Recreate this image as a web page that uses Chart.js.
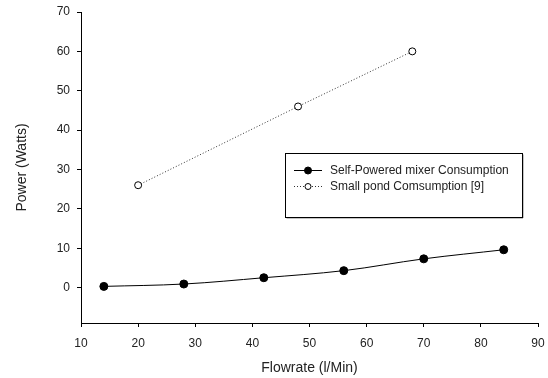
<!DOCTYPE html>
<html><head><meta charset="utf-8">
<script src="https://cdn.jsdelivr.net/npm/chart.js@4"></script>
<style>html,body{margin:0;padding:0;background:#fff}#wrap{width:548px;height:378px}</style>
</head><body><div id="wrap"><canvas id="c" width="548" height="378"></canvas></div>
<script>
const selfX = [14, 28, 42, 56, 70, 84];
const selfY = [0.3, 0.9, 2.5, 4.3, 7.3, 9.6];
const pondX = [20, 48, 68];
const pondY = [26, 46, 60];
const xTicks = [10, 20, 30, 40, 50, 60, 70, 80, 90];
const yTicks = [0, 10, 20, 30, 40, 50, 60, 70];
const seriesNames = ['Self-Powered mixer Consumption', 'Small pond Comsumption [9]'];
const xTitle = 'Flowrate (l/Min)';
const yTitle = 'Power (Watts)';

const FONT = '"Liberation Sans", Arial, sans-serif';
Chart.defaults.font.family = FONT;
Chart.defaults.color = '#222';

const legendPlugin = {
  id: 'boxLegend',
  afterDraw(chart) {
    const ctx = chart.ctx;
    const bx = 285, by = 153, bw = 237, bh = 64;
    ctx.save();
    ctx.fillStyle = '#fff';
    ctx.fillRect(bx, by, bw, bh);
    ctx.strokeStyle = '#888';
    ctx.lineWidth = 1;
    ctx.beginPath();
    ctx.moveTo(bx + 1.5, by + bh + 1); ctx.lineTo(bx + bw + 1, by + bh + 1); ctx.lineTo(bx + bw + 1, by + 1.5);
    ctx.stroke();
    ctx.strokeStyle = '#000';
    ctx.strokeRect(bx + 0.5, by + 0.5, bw, bh);
    const ys = [170, 186];
    const ds = chart.data.datasets;
    ys.forEach((y, i) => {
      const d = ds[i];
      ctx.strokeStyle = d.borderColor;
      ctx.lineWidth = 1;
      ctx.setLineDash(d.borderDash || []);
      ctx.beginPath();
      ctx.moveTo(294, y + 0.5); ctx.lineTo(322, y + 0.5);
      ctx.stroke();
      ctx.setLineDash([]);
      ctx.beginPath();
      ctx.arc(308, y + 0.5, i === 0 ? 3.5 : 3, 0, Math.PI * 2);
      ctx.fillStyle = d.pointBackgroundColor;
      ctx.fill();
      ctx.strokeStyle = d.pointBorderColor;
      ctx.stroke();
      ctx.fillStyle = '#222';
      ctx.font = '12px ' + FONT;
      ctx.textBaseline = 'middle';
      ctx.textAlign = 'left';
      ctx.fillText(d.label, 330, y + 0.5);
    });
    ctx.restore();
  }
};

new Chart(document.getElementById('c'), {
  type: 'line',
  data: {
    datasets: [
      {
        label: seriesNames[0],
        data: selfX.map((x, i) => ({ x, y: selfY[i] })),
        borderColor: '#000',
        borderWidth: 1,
        pointRadius: 4,
        pointBackgroundColor: '#000',
        pointBorderColor: '#000',
        pointBorderWidth: 1,
        tension: 0.35,
        fill: false
      },
      {
        label: seriesNames[1],
        data: pondX.map((x, i) => ({ x, y: pondY[i] })),
        borderColor: '#333',
        borderWidth: 1,
        borderDash: [1, 2],
        pointRadius: 3.5,
        pointBackgroundColor: '#fff',
        pointBorderColor: '#000',
        pointBorderWidth: 1,
        tension: 0,
        fill: false
      }
    ]
  },
  options: {
    responsive: false,
    animation: false,
    devicePixelRatio: 1,
    layout: { padding: { top: 12, right: 10, left: 0, bottom: 0 } },
    plugins: { legend: { display: false }, tooltip: { enabled: false } },
    scales: {
      x: {
        type: 'linear',
        min: 10, max: 90,
        afterBuildTicks: s => { s.ticks = xTicks.map(v => ({ value: v })); },
        afterFit: s => { s.height = 55; s.paddingLeft = 0; s.paddingRight = 0; },
        ticks: { font: { size: 12 }, color: '#222', padding: 9, maxRotation: 0, autoSkip: false },
        grid: { display: true, drawOnChartArea: false, drawTicks: true, tickLength: 4, tickColor: '#000' },
        border: { display: true, color: '#000', width: 1 },
        title: { display: true, text: xTitle, font: { size: 14 }, color: '#222', padding: { top: 0, bottom: 1 } }
      },
      y: {
        type: 'linear',
        min: -9, max: 70,
        afterBuildTicks: s => { s.ticks = yTicks.map(v => ({ value: v })); },
        afterFit: s => { s.width = 81; s.paddingTop = 0; s.paddingBottom = 0; },
        ticks: { font: { size: 12 }, color: '#222', padding: 7, autoSkip: false },
        grid: { display: true, drawOnChartArea: false, drawTicks: true, tickLength: 4, tickColor: '#000' },
        border: { display: true, color: '#000', width: 1 },
        title: { display: true, text: yTitle, font: { size: 14 }, color: '#222', padding: { top: 14, bottom: 0 } }
      }
    }
  },
  plugins: [legendPlugin]
});
</script>
</body></html>
